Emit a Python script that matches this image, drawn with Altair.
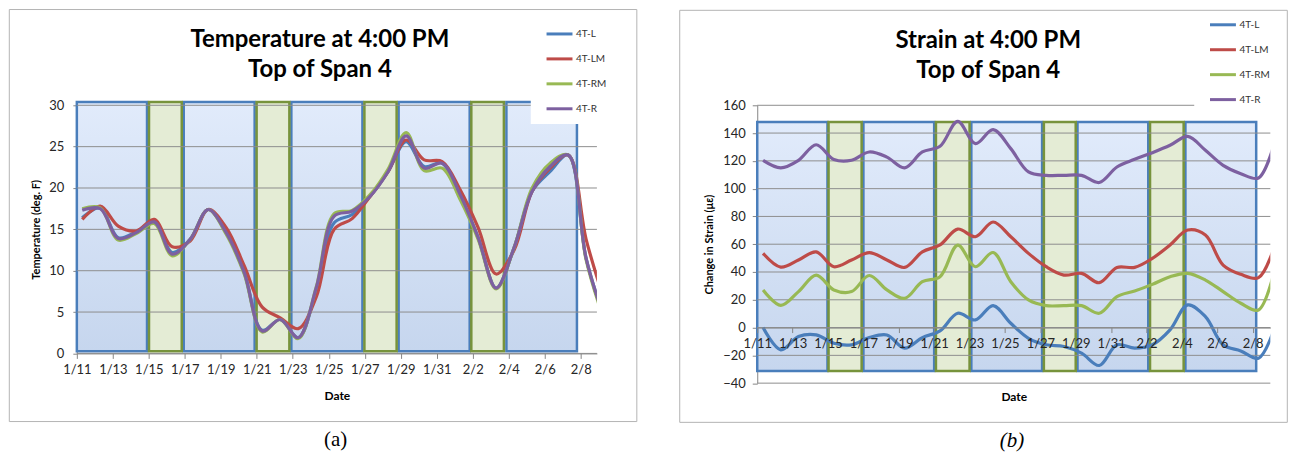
import altair as alt
import pandas as pd

SERIES = ["4T-L", "4T-LM", "4T-RM", "4T-R"]
SERIES_COLORS = ["#4a7ebb", "#be4b48", "#98b954", "#7d60a0"]

TICK_LABELS = ["1/11", "1/13", "1/15", "1/17", "1/19", "1/21", "1/23", "1/25",
               "1/27", "1/29", "1/31", "2/2", "2/4", "2/6", "2/8"]
TICK_DAYS = [0, 2, 4, 6, 8, 10, 12, 14, 16, 18, 20, 22, 24, 26, 28]

DAYS = list(range(30))
TEMP_X_OFFSET = 0.3
STRAIN_X_OFFSET = 0.33

# Temperature (deg F) at 4:00 PM, one value per day starting 1/11
temp_L = [16.4, 17.6, 14.0, 14.7, 15.9, 12.2, 13.8, 17.4, 14.6, 9.8,
          2.8, 4.1, 1.9, 7.6, 15.8, 16.8, 19.0, 22.0, 25.6, 22.6,
          23.0, 19.0, 14.0, 7.9, 12.8, 19.6, 22.0, 24.0, 11.5, 4.3]
temp_LM = [16.2, 17.8, 15.4, 14.8, 16.2, 12.9, 13.6, 17.4, 15.2, 10.6,
           5.6, 4.3, 3.0, 6.8, 15.0, 16.3, 19.0, 22.0, 25.8, 23.4,
           23.2, 19.8, 15.2, 9.6, 12.5, 19.6, 22.4, 24.0, 13.8, 6.5]
temp_RM = [17.5, 17.6, 13.7, 14.5, 15.7, 11.8, 13.8, 17.4, 14.4, 9.6,
           2.6, 4.1, 1.8, 8.0, 16.9, 17.3, 19.2, 22.3, 26.7, 22.1,
           22.4, 18.6, 13.8, 7.8, 12.8, 20.0, 23.0, 24.0, 11.3, 4.0]
temp_R = [17.3, 17.5, 13.9, 14.6, 15.9, 12.0, 13.8, 17.4, 14.6, 9.8,
          2.7, 4.1, 1.9, 7.9, 16.6, 17.2, 19.0, 22.0, 26.3, 22.4,
          23.0, 19.2, 14.0, 7.9, 12.8, 19.6, 22.6, 24.0, 11.5, 4.3]

# Change in strain (microstrain) at 4:00 PM
strain_L = [0, -16, -6.5, -5.3, -11.3, -12.4, -7.2, -5.3, -14.8, -7.2,
            -2.4, 10.3, 5.5, 15.8, 3.1, -7.7, -12.4, -13.6, -18.4, -27.3,
            -12.4, -14.8, -12.4, -1.7, 16.3, 7.9, -12.4, -16.8, -22, 3]
strain_LM = [53.4, 43.5, 48.6, 54.5, 43.8, 48.6, 54, 48.6, 43.3, 54.5,
             59.5, 70.9, 65.4, 76, 65.4, 53.4, 43.8, 37.8, 39, 32.3,
             43.3, 43.3, 49.8, 59.4, 70.2, 66.6, 45, 38.3, 35.9, 62]
strain_RM = [27.1, 16, 25.9, 37.8, 27.1, 25.9, 37.5, 27.1, 21, 33,
             36.6, 59.4, 43.8, 54, 33, 19.9, 15.8, 15.8, 15.8, 10.3,
             22.3, 26.3, 31.1, 36.6, 39, 34.2, 25.9, 17.5, 12.7, 46]
strain_R = [120.4, 115, 120.4, 131.6, 121, 120.4, 126.4, 122.7, 115, 126.4,
            130.5, 148.4, 132.4, 142.5, 128.8, 112, 109.6, 109.6, 109.6, 104.4,
            115.6, 121.1, 125.9, 131.2, 137.6, 127.6, 116.8, 110.8, 107.7, 137]

TEMP_TICKS = [0, 5, 10, 15, 20, 25, 30]
STRAIN_TICKS = [-40, -20, 0, 20, 40, 60, 80, 100, 120, 140, 160]

band_kind = ["blue", "green", "blue", "green", "blue", "green", "blue", "green", "blue"]
temp_band_start = [0.0, 4.01, 5.94, 9.99, 11.92, 15.98, 17.88, 21.92, 23.87]
temp_band_end = [3.9, 5.83, 9.88, 11.81, 15.87, 17.77, 21.83, 23.73, 27.79]
temp_band_low, temp_band_high = 0.25, 30.4
strain_band_start = [0.0, 4.03, 6.0, 10.1, 12.1, 16.2, 18.1, 22.2, 24.2]
strain_band_end = [3.97, 5.9, 10.0, 12.0, 16.1, 18.0, 22.1, 24.1, 28.2]
strain_band_low, strain_band_high = -31.3, 148.0

FONT = "Lato"
LABEL_COLOR = "#262626"
AXIS_GRAY = "#868686"
GRID_GRAY = "#8e8e8e"
BLUE_EDGE = "#4a7ebb"
GREEN_EDGE = "#77933c"
GREEN_FILL = "#e4ecd5"
BLUE_GRAD = alt.Gradient(
    gradient="linear",
    stops=[alt.GradientStop(color="#e1ebfb", offset=0),
           alt.GradientStop(color="#c6d6ee", offset=1)],
    x1=0, x2=0, y1=0, y2=1,
)

label_expr = "[" + ",".join("'" + t + "'" for t in TICK_LABELS) + "][round(datum.value / 2)]"


def long_table(series_values, offset):
    rows = []
    for name, vals in zip(SERIES, series_values):
        for d, v in zip(DAYS, vals):
            rows.append({"day": d + offset, "value": v, "series": name})
    return pd.DataFrame(rows)


def panel(series_values, offset, bstart, bend, blow, bhigh, yticks, xdom, ydom,
          W, H, ytitle, ytitle_x, ylab_pad, ytick_size, xaxis_offset, xtitle_y,
          title_lines, title_x, title_y, caption, cap_italic, cap_x, cap_y,
          frame, wbox, leg_x, leg_y, xaxis_z):
    xs = alt.Scale(domain=xdom, nice=False, zero=False)
    ys = alt.Scale(domain=ydom, nice=False, zero=False)
    xax = alt.Axis(values=TICK_DAYS, labelExpr=label_expr, title="Date",
                   titleFont=FONT, titleFontSize=12, titleFontWeight="bold",
                   titleColor="black", titleY=xtitle_y, titleBaseline="middle",
                   labelFont=FONT, labelFontSize=13, labelColor=LABEL_COLOR,
                   labelPadding=5, tickSize=5, tickColor=AXIS_GRAY,
                   domainColor=AXIS_GRAY, grid=False, labelFlush=False,
                   labelOverlap=False, offset=xaxis_offset, zindex=xaxis_z)
    yax = alt.Axis(values=yticks, title=ytitle, titleFont=FONT, titleFontSize=11,
                   titleFontWeight="bold", titleColor="black", titleX=ytitle_x,
                   titleY=H / 2, titleBaseline="middle", titleAngle=270,
                   labelFont=FONT, labelFontSize=13, labelColor=LABEL_COLOR,
                   labelPadding=ylab_pad, tickSize=ytick_size, tickColor=AXIS_GRAY,
                   domainColor=AXIS_GRAY, grid=False, labelOverlap=False)

    bands = pd.DataFrame({"start": bstart, "end": bend, "kind": band_kind,
                          "low": blow, "high": bhigh})
    one = pd.DataFrame({"k": [0]})

    frame_l = alt.Chart(one).mark_rect(fill="white", fillOpacity=0, stroke="#b4b4b4",
                                       strokeWidth=1).encode(
        x=alt.value(frame[0]), x2=alt.value(frame[2]),
        y=alt.value(frame[1]), y2=alt.value(frame[3]))

    blue = alt.Chart(bands).transform_filter(alt.datum.kind == "blue").mark_rect(
        fill=BLUE_GRAD, stroke=BLUE_EDGE, strokeWidth=2.5).encode(
        x=alt.X("start:Q", scale=xs, axis=xax), x2="end:Q",
        y=alt.Y("low:Q", scale=ys, axis=yax), y2="high:Q")
    green = alt.Chart(bands).transform_filter(alt.datum.kind == "green").mark_rect(
        fill=GREEN_FILL, stroke=GREEN_EDGE, strokeWidth=2.5).encode(
        x=alt.X("start:Q", scale=xs, axis=xax), x2="end:Q",
        y=alt.Y("low:Q", scale=ys, axis=yax), y2="high:Q")

    grid = alt.Chart(pd.DataFrame({"v": yticks})).mark_rule(
        color=GRID_GRAY, strokeWidth=1).encode(y=alt.Y("v:Q", scale=ys, axis=yax))

    lines = alt.Chart(long_table(series_values, offset)).mark_line(
        interpolate="catmull-rom", strokeWidth=3.2, clip=True).encode(
        x=alt.X("day:Q", scale=xs, axis=xax),
        y=alt.Y("value:Q", scale=ys, axis=yax),
        color=alt.Color("series:N", sort=SERIES,
                        scale=alt.Scale(domain=SERIES, range=SERIES_COLORS),
                        legend=alt.Legend(orient="none", legendX=leg_x, legendY=leg_y,
                                          title=None, symbolType="stroke",
                                          symbolSize=676, symbolStrokeWidth=3,
                                          labelFont=FONT, labelFontSize=10,
                                          labelColor="#333333", labelOffset=2,
                                          rowPadding=4, padding=0)),
        detail="series:N")

    box = alt.Chart(one).mark_rect(fill="white", stroke=None).encode(
        x=alt.value(wbox[0]), x2=alt.value(wbox[2]),
        y=alt.value(wbox[1]), y2=alt.value(wbox[3]))

    title = alt.Chart(one).mark_text(
        text=title_lines, font=FONT, fontSize=24, fontWeight="bold", color="black",
        align="center", baseline="alphabetic", lineHeight=30).encode(
        x=alt.value(title_x), y=alt.value(title_y))

    cap = alt.Chart(one).mark_text(
        text=caption, font="Liberation Serif", fontSize=21, color="black",
        fontStyle="italic" if cap_italic else "normal",
        align="center", baseline="alphabetic").encode(
        x=alt.value(cap_x), y=alt.value(cap_y))

    return alt.layer(frame_l, blue, green, grid, lines, box, title, cap).properties(
        width=W, height=H)


WA, HA = 521.3, 248.7
WB, HB = 514.3, 278.5

chart_a = panel([temp_L, temp_LM, temp_RM, temp_R], TEMP_X_OFFSET,
                temp_band_start, temp_band_end, temp_band_low, temp_band_high,
                TEMP_TICKS, [0, 28.9], [0, 30], WA, HA,
                "Temperature (deg. F)", -40, 9, 4, 0, 42,
                ["Temperature at 4:00 PM", "Top of Span 4"], 243.6, -58,
                "(a)", False, 259.3, 342,
                (-67.7, -96, 561.3, 317), (455, -90, 530, 18.7), 469.3, -86, 0)

chart_b = panel([strain_L, strain_LM, strain_RM, strain_R], STRAIN_X_OFFSET,
                strain_band_start, strain_band_end, strain_band_low, strain_band_high,
                STRAIN_TICKS, [0, 29.0], [-40, 160], WB, HB,
                "Change in Strain (\u03bc\u03b5)", -47.7, 7, 5, -HB * 40 / 200, 69,
                ["Strain at 4:00 PM", "Top of Span 4"], 231.5, -57.2,
                "(b)", True, 255.3, 342.8,
                (-77.7, -95.2, 531.3, 317.8), (438, -90, 524, 9.5), 452.3, -95.2, 1)

chart = alt.hconcat(chart_a, chart_b, spacing=41).resolve_scale(
    color="independent", x="independent", y="independent").resolve_legend(
    color="independent").configure_view(stroke=None).properties(padding=0)

chart.save("out.html", embed_options={"renderer": "svg", "actions": False})
